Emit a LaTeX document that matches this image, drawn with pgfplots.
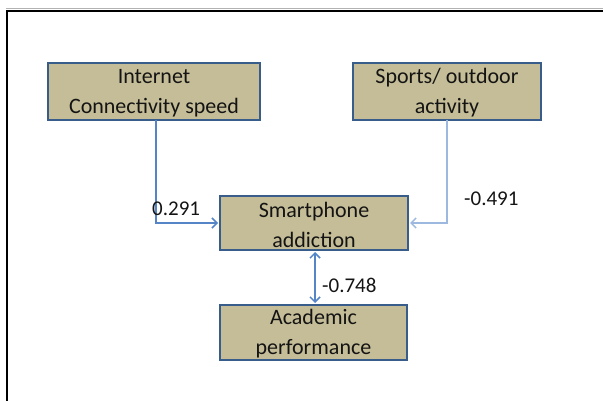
\documentclass[border=0pt]{standalone}
\usepackage{fontspec}
\setmainfont{Carlito}
\usepackage{pgfplots}
\pgfplotsset{compat=1.18}
\usetikzlibrary{arrows.meta}
\definecolor{boxfill}{HTML}{C4BD97}
\definecolor{boxedge}{HTML}{385D8A}
\definecolor{arrA}{HTML}{5585C6}
\definecolor{arrB}{HTML}{9DB9E0}
\definecolor{txt}{HTML}{141414}
\begin{document}
\begin{tikzpicture}
\begin{axis}[
  width=603pt, height=401pt, scale only axis,
  xmin=0, xmax=603, ymin=0, ymax=401, y dir=reverse,
  hide axis, clip=false,
]
% outer frame
\addplot[gray!60, line width=1pt] coordinates {(6,9) (603,9)};
\addplot[black, line width=2pt] coordinates {(7,401) (7,11) (603,11)};
% boxes
\addplot[fill=boxfill, draw=boxedge, line width=2.8pt, line join=miter] coordinates {(48,63) (260,63) (260,120) (48,120)} -- cycle;
\addplot[fill=boxfill, draw=boxedge, line width=2.8pt, line join=miter] coordinates {(353,63) (541,63) (541,120) (353,120)} -- cycle;
\addplot[fill=boxfill, draw=boxedge, line width=2.8pt, line join=miter] coordinates {(220,196) (408,196) (408,250) (220,250)} -- cycle;
\addplot[fill=boxfill, draw=boxedge, line width=2.8pt, line join=miter] coordinates {(220,305) (407,305) (407,360) (220,360)} -- cycle;
% arrows
\addplot[arrA, line width=1.5pt, -{Straight Barb[length=5pt,width=10pt]}] coordinates {(156,120) (156,223) (218,223)};
\addplot[arrB, line width=1.5pt, -{Straight Barb[length=5pt,width=10pt]}] coordinates {(447,120) (447,223) (410,223)};
\addplot[arrA, line width=1.5pt, {Straight Barb[length=5pt,width=10pt]}-{Straight Barb[length=5pt,width=10pt]}] coordinates {(315,252) (315,303)};
% box texts
\node[align=center, text=txt, font=\fontsize{22}{30}\selectfont] at (axis cs:154,93) {Internet\\Connectivity speed};
\node[align=center, text=txt, font=\fontsize{22}{30}\selectfont] at (axis cs:447,93) {Sports/ outdoor\\activity};
\node[align=center, text=txt, font=\fontsize{22}{30}\selectfont] at (axis cs:314,225) {Smartphone\\addiction};
\node[align=center, text=txt, font=\fontsize{22}{30}\selectfont] at (axis cs:313.5,334) {Academic\\performance};
% coefficients
\node[anchor=base west, inner sep=0pt, text=txt, font=\fontsize{21}{24}\selectfont] at (axis cs:152,215) {0.291};
\node[anchor=base west, inner sep=0pt, text=txt, font=\fontsize{21}{24}\selectfont] at (axis cs:464,206) {-0.491};
\node[anchor=base west, inner sep=0pt, text=txt, font=\fontsize{21}{24}\selectfont] at (axis cs:322,292) {-0.748};
\end{axis}
\pgfresetboundingbox
\path (current axis.south west) rectangle (current axis.north east);
\end{tikzpicture}
\end{document}
